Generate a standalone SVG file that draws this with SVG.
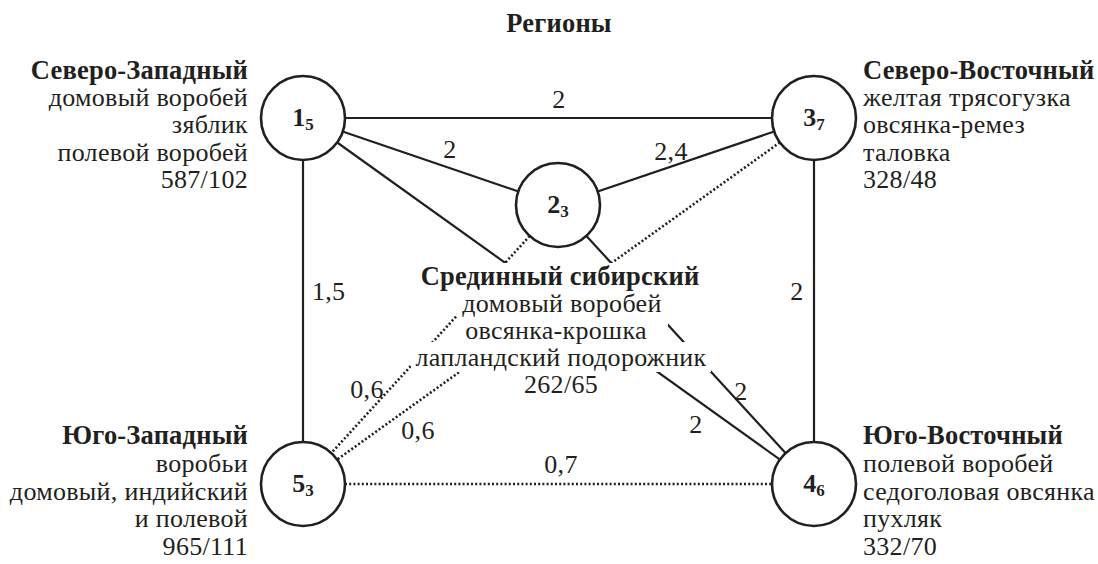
<svg xmlns="http://www.w3.org/2000/svg" width="1098" height="564" viewBox="0 0 1098 564">
  <style>
    text { font-family: "Liberation Serif", "Times New Roman", serif; fill: #231f20; }
    .t { font-size: 26px; letter-spacing: 0.3px; }
    .b { font-size: 26.5px; font-weight: bold; letter-spacing: 0.2px; }
    .r { text-anchor: end; }
    .m { text-anchor: middle; }
    .nl { font-size: 26px; font-weight: bold; text-anchor: middle; }
    .sub { font-size: 17px; }
    .solid { stroke: #231f20; stroke-width: 2.2; fill: none; }
    .dot { stroke: #231f20; stroke-width: 2.6; fill: none; stroke-dasharray: 2 2.2; }
    .node { fill: #ffffff; stroke: #231f20; stroke-width: 2.6; }
    .knock { fill: #ffffff; }
  </style>

  <text class="b m" x="559" y="32">Регионы</text>

  <!-- edges between regions -->
  <g id="connectors">
    <line class="solid" x1="303" y1="118" x2="814" y2="118"/>
    <line class="solid" x1="303" y1="118" x2="558" y2="205"/>
    <line class="solid" x1="558" y1="205" x2="814" y2="118"/>
    <line class="solid" x1="303" y1="118" x2="303" y2="484"/>
    <line class="solid" x1="814" y1="118" x2="814" y2="484"/>
    <line class="solid" x1="303" y1="118" x2="814" y2="484"/>
    <line class="solid" x1="558" y1="205" x2="814" y2="484"/>
    <line class="dot" x1="558" y1="205" x2="303" y2="484"/>
    <line class="dot" x1="814" y1="118" x2="303" y2="484"/>
    <line class="dot" x1="303" y1="484" x2="814" y2="484"/>

    <text class="t m" x="559" y="108">2</text>
    <text class="t m" x="450" y="158">2</text>
    <text class="t m" x="671" y="160">2,4</text>
    <text class="t" x="312" y="300">1,5</text>
    <text class="t m" x="797" y="300">2</text>
    <text class="t m" x="367" y="398">0,6</text>
    <text class="t m" x="418" y="439">0,6</text>
    <text class="t m" x="561" y="473">0,7</text>
    <text class="t m" x="741" y="400">2</text>
    <text class="t m" x="696" y="433">2</text>
  </g>

  <g id="node-1">
    <circle class="node" cx="303" cy="118" r="42"/>
    <text class="nl" x="303" y="126">1<tspan class="sub" dy="4">5</tspan></text>
    <text class="b r" x="248" y="79">Северо-Западный</text>
    <text class="t r" x="248" y="106">домовый воробей</text>
    <text class="t r" x="248" y="133">зяблик</text>
    <text class="t r" x="248" y="161">полевой воробей</text>
    <text class="t r" x="248" y="188">587/102</text>
  </g>

  <g id="node-2">
    <circle class="node" cx="558" cy="205" r="42"/>
    <text class="nl" x="558" y="213">2<tspan class="sub" dy="4">3</tspan></text>
    <!-- white backing so the crossing edges stop short of the caption -->
    <rect class="knock" x="418" y="263" width="285" height="28"/>
    <rect class="knock" x="457" y="290" width="211" height="37"/>
    <rect class="knock" x="466" y="318" width="179" height="27"/>
    <rect class="knock" x="411" y="342" width="300" height="30"/>
    <rect class="knock" x="524" y="372" width="76" height="27"/>
    <text class="b m" x="560" y="285">Срединный сибирский</text>
    <text class="t m" x="562" y="312">домовый воробей</text>
    <text class="t m" x="556" y="339">овсянка-крошка</text>
    <text class="t m" x="561" y="366">лапландский подорожник</text>
    <text class="t m" x="561" y="393">262/65</text>
  </g>

  <g id="node-3">
    <circle class="node" cx="814" cy="118" r="42"/>
    <text class="nl" x="814" y="126">3<tspan class="sub" dy="4">7</tspan></text>
    <text class="b" x="863" y="79">Северо-Восточный</text>
    <text class="t" x="863" y="106">желтая трясогузка</text>
    <text class="t" x="863" y="133">овсянка-ремез</text>
    <text class="t" x="863" y="161">таловка</text>
    <text class="t" x="863" y="188">328/48</text>
  </g>

  <g id="node-4">
    <circle class="node" cx="814" cy="484" r="42"/>
    <text class="nl" x="814" y="492">4<tspan class="sub" dy="4">6</tspan></text>
    <text class="b" x="863" y="444">Юго-Восточный</text>
    <text class="t" x="863" y="472">полевой воробей</text>
    <text class="t" x="863" y="500">седоголовая овсянка</text>
    <text class="t" x="863" y="527">пухляк</text>
    <text class="t" x="863" y="555">332/70</text>
  </g>

  <g id="node-5">
    <circle class="node" cx="303" cy="484" r="42"/>
    <text class="nl" x="303" y="492">5<tspan class="sub" dy="4">3</tspan></text>
    <text class="b r" x="248" y="444">Юго-Западный</text>
    <text class="t r" x="248" y="472">воробьи</text>
    <text class="t r" x="248" y="500">домовый, индийский</text>
    <text class="t r" x="248" y="527">и полевой</text>
    <text class="t r" x="248" y="555">965/111</text>
  </g>
</svg>
